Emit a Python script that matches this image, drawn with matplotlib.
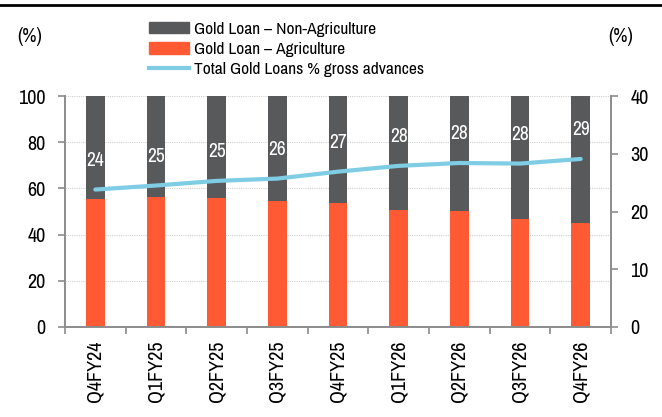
import numpy as np
import matplotlib.pyplot as plt
from matplotlib.lines import Line2D
from matplotlib.patches import Patch

plt.rcParams['font.family'] = ['Liberation Sans Narrow', 'Arial Narrow', 'Archivo Narrow',
                               'Liberation Sans', 'DejaVu Sans']

quarters = ['Q4FY24', 'Q1FY25', 'Q2FY25', 'Q3FY25', 'Q4FY25',
            'Q1FY26', 'Q2FY26', 'Q3FY26', 'Q4FY26']
agri = [55.4, 56.3, 55.8, 54.5, 53.7, 50.6, 50.2, 46.6, 44.9]
non_agri = [100 - a for a in agri]
total_pct = [23.8, 24.5, 25.3, 25.7, 26.9, 27.9, 28.4, 28.3, 29.1]
labels = ['24', '25', '25', '26', '27', '28', '28', '28', '29']

c_dark = '#58595B'
c_orange = '#FF5A33'
c_line = '#7FCDE4'
c_axis = '#8C8C8C'

fig = plt.figure(figsize=(6.62, 4.17), dpi=100)
ax = fig.add_axes([65 / 662, 1 - 327 / 417, (611 - 65) / 662, (327 - 96) / 417])
ax2 = ax.twinx()

x = np.arange(len(quarters))
ax.bar(x, agri, width=0.31, color=c_orange, zorder=2)
ax.bar(x, non_agri, bottom=agri, width=0.31, color=c_dark, zorder=2)

ax.set_xlim(-0.5, len(quarters) - 0.5)
ax.set_ylim(0, 100)
ax.set_yticks([0, 20, 40, 60, 80, 100])
ax.grid(axis='y', color='#D0D0D0', linestyle=(0, (1, 1)), linewidth=0.8, zorder=0)
ax.set_xticks(x)
ax.set_xticklabels(quarters, rotation=90, fontsize=14.5)
ax.set_xticks(np.arange(-0.5, len(quarters)), minor=True)
ax.tick_params(axis='x', which='major', length=0, pad=10)
ax.tick_params(axis='x', which='minor', length=5, color=c_axis, width=1.2)
ax.tick_params(axis='y', labelsize=14.5, length=5, color=c_axis, width=1.2, pad=9)

ax2.plot(x, total_pct, color=c_line, linewidth=3, zorder=3, solid_capstyle='round')
ax2.set_ylim(0, 40)
ax2.set_yticks([0, 10, 20, 30, 40])
ax2.tick_params(axis='y', labelsize=14.5, length=5, color=c_axis, width=1.2, pad=9)
for xi, v, lab in zip(x, total_pct, labels):
    ax2.annotate(lab, (xi, v), xytext=(0, 21), textcoords='offset points',
                 ha='center', va='center', color='white', fontsize=14)

for a in (ax, ax2):
    a.spines['top'].set_visible(False)
    for s in ('left', 'right', 'bottom'):
        a.spines[s].set_color(c_axis)
        a.spines[s].set_linewidth(1.2)

handles = [Patch(color=c_dark), Patch(color=c_orange),
           Line2D([0], [0], color=c_line, linewidth=3)]
names = ['Gold Loan – Non-Agriculture', 'Gold Loan – Agriculture',
         'Total Gold Loans % gross advances']
fig.legend(handles, names, loc='upper left', bbox_to_anchor=(140 / 662, 1 - 13 / 417),
           frameon=False, fontsize=12.5, handlelength=2.3, handleheight=0.65,
           labelspacing=0.3, handletextpad=0.3, borderpad=0)

fig.text(17 / 662, 1 - 37 / 417, '(%)', fontsize=14, va='center')
fig.text(608 / 662, 1 - 37 / 417, '(%)', fontsize=14, va='center')
fig.add_artist(Line2D([0, 1], [1 - 5 / 417, 1 - 5 / 417], color='black', linewidth=2))

fig.savefig('out.png', dpi=100)
